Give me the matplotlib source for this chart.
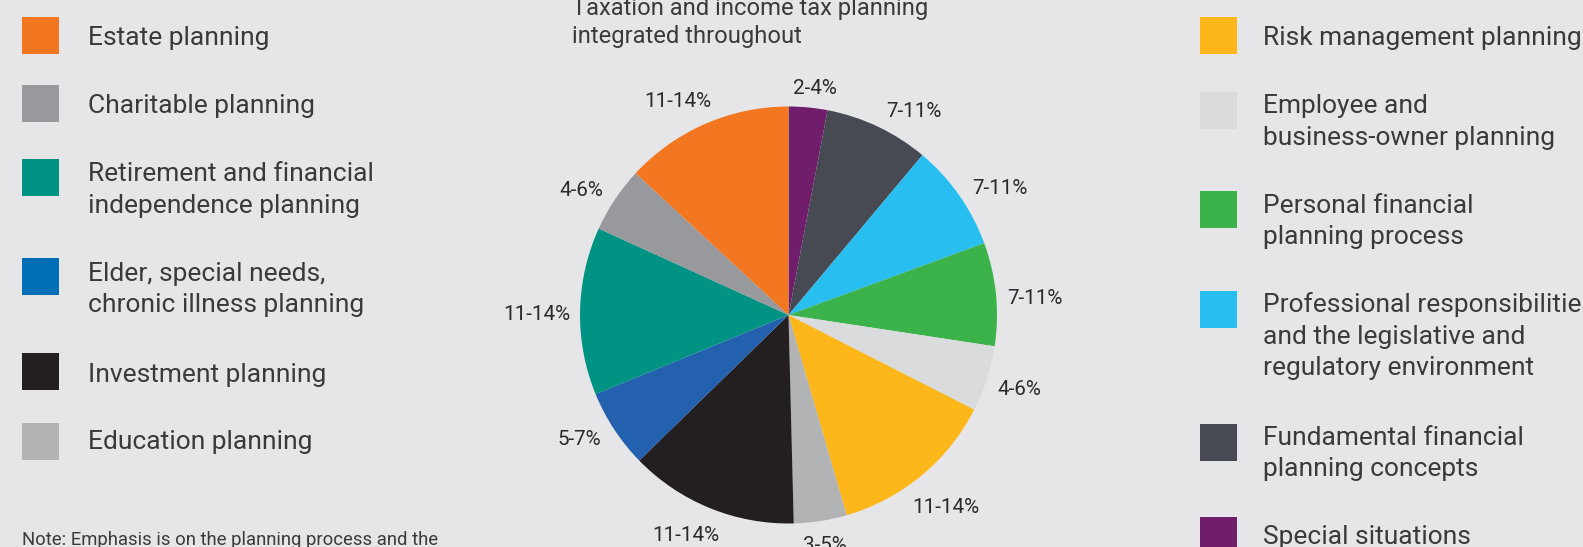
import matplotlib
matplotlib.use("Agg")
import matplotlib.pyplot as plt
from matplotlib.patches import Rectangle
import numpy as np

# ---------------- data ----------------
slice_names = ["Special situations", "Fundamental financial planning concepts",
               "Professional responsibilities", "Personal financial planning process",
               "Employee and business-owner planning", "Risk management planning",
               "Education planning", "Investment planning",
               "Elder, special needs, chronic illness planning",
               "Retirement and financial independence planning",
               "Charitable planning", "Estate planning"]
slice_values = [3.0, 8.1, 8.3, 8.0, 5.1, 13.0, 4.1, 13.1, 6.1, 13.0, 5.1, 13.1]
slice_labels = ["2-4%", "7-11%", "7-11%", "7-11%", "4-6%", "11-14%",
                "3-5%", "11-14%", "5-7%", "11-14%", "4-6%", "11-14%"]
slice_colors = ["#701E6B", "#474A52", "#28BEEF", "#3CB24B", "#DADBDC", "#FDB71A",
                "#B1B3B4", "#231F20", "#2360AD", "#009383", "#97999C", "#F37721"]

left_legend = ["Estate planning", "Charitable planning",
               "Retirement and financial\nindependence planning",
               "Elder, special needs,\nchronic illness planning",
               "Investment planning", "Education planning"]
left_colors = ["#F37721", "#97999C", "#009383", "#006DB7", "#231F20", "#B1B3B4"]

right_legend = ["Risk management planning",
                "Employee and\nbusiness-owner planning",
                "Personal financial\nplanning process",
                "Professional responsibilities\nand the legislative and\nregulatory environment",
                "Fundamental financial\nplanning concepts",
                "Special situations"]
right_colors = ["#FDB71A", "#DADBDC", "#3CB24B", "#28BEEF", "#474A52", "#701E6B"]

title_text = "Taxation and income tax planning\nintegrated throughout"
note_text = "Note: Emphasis is on the planning process and the"

# ---------------- layout ----------------
W, H = 1583, 547
BG = "#E6E6E8"
TXT = "#3A3A3A"
FONT = "Roboto"

# small angular nudges (deg, clockwise) for label placement around the pie
label_nudge = [1.2, 6.0, 3.8, 1.4, -0.3, 0.2, -0.3, 3.0, 3.0, -0.5, -2.3, -3.5]

fig = plt.figure(figsize=(W / 100, H / 100), dpi=100, facecolor=BG)
renderer = fig.canvas.get_renderer()

def fy(py):
    return 1 - py / H

def fx(px):
    return px / W

# pie axes
cx, cy, R = 788.5, 315.0, 208.5
ax = fig.add_axes([fx(cx - R), fy(cy + R), 2 * R / W, 2 * R / H])
ax.set_facecolor("none")
wedges, _ = ax.pie(slice_values, colors=slice_colors, startangle=90,
                   counterclock=False, radius=1.0,
                   wedgeprops=dict(linewidth=0))
ax.set_xlim(-1, 1)
ax.set_ylim(-1, 1)
ax.set_aspect("equal")
ax.axis("off")

gap = 10.0
for w, lab, nd in zip(wedges, slice_labels, label_nudge):
    ang = np.deg2rad((w.theta1 + w.theta2) / 2 - nd)
    c, s = np.cos(ang), np.sin(ang)
    t = ax.text(0, 0, lab, ha="center", va="center_baseline", fontsize=14.9,
                family=FONT, color="#2A2A2A", clip_on=False)
    bb = t.get_window_extent(renderer)
    d = R + gap + abs(c) * bb.width / 2 + abs(s) * bb.height / 2
    t.set_position((d / R * c, d / R * s))

line_gap = 31.4
leg_fs = 19.0
SQ_W, SQ_H = 37.0, 37.0

def draw_legend(names, colors, sq_x, txt_x, baselines, sq_tops):
    for name, col, b, tp in zip(names, colors, baselines, sq_tops):
        fig.patches.append(Rectangle((fx(sq_x), fy(tp + SQ_H)), SQ_W / W, SQ_H / H,
                                     transform=fig.transFigure,
                                     facecolor=col, edgecolor="none"))
        for i, line in enumerate(name.split("\n")):
            fig.text(fx(txt_x), fy(b + i * line_gap), line, ha="left",
                     va="baseline", fontsize=leg_fs, family=FONT,
                     color=TXT)

draw_legend(left_legend, left_colors, 21.5, 87.8,
            [45.4, 113.4, 181.4, 280.8, 382.0, 449.0],
            [17.1, 85.1, 159.1, 258.2, 353.0, 423.2])
draw_legend(right_legend, right_colors, 1199.5, 1263.0,
            [45.4, 113.4, 212.8, 312.2, 444.8, 544.2],
            [17.1, 92.1, 191.2, 291.0, 423.9, 517.0])

for i, line in enumerate(title_text.split("\n")):
    fig.text(fx(572), fy(15 + i * 28.5), line, ha="left", va="baseline",
             fontsize=17.1, family=FONT, color=TXT)

fig.text(fx(22), fy(545), note_text, ha="left", va="baseline",
         fontsize=13.3, family=FONT, color=TXT)

fig.savefig("out.png", dpi=100, facecolor=BG)
